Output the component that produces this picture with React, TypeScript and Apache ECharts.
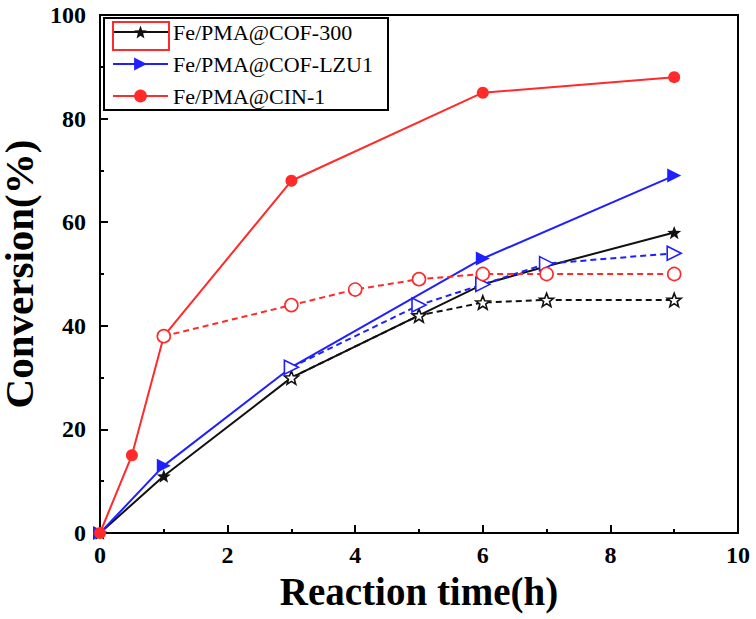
import React, { useEffect, useRef } from "react";
import * as echarts from "echarts";

// ---- data ----
const xTicks = [0, 2, 4, 6, 8, 10];
const yTicks = [0, 20, 40, 60, 80, 100];

const nameCof300 = "Fe/PMA@COF-300";
const nameLzu1 = "Fe/PMA@COF-LZU1";
const nameCin1 = "Fe/PMA@CIN-1";

// solid lines (filled markers)
const cof300SolidX = [0, 1, 3, 5, 6, 7, 9];
const cof300SolidY = [0, 11, 30, 42, 48, 51.5, 58];
const cof300SolidMarked = [true, true, true, false, false, false, true];

const lzu1SolidX = [0, 1, 3, 6, 9];
const lzu1SolidY = [0, 13, 32, 53, 69];

const cin1SolidX = [0, 0.5, 1, 3, 6, 9];
const cin1SolidY = [0, 15, 38, 68, 85, 88];

// dashed lines (open markers)
const cof300DashX = [3, 5, 6, 7, 9];
const cof300DashY = [30, 42, 44.5, 45, 45];

const lzu1DashX = [3, 5, 6, 7, 9];
const lzu1DashY = [32, 44, 48, 52, 54];

const cin1DashX = [1, 3, 4, 5, 6, 7, 9];
const cin1DashY = [38, 44, 47, 49, 50, 50, 50];

// ---- styles ----
const BLACK = "#111111";
const BLUE = "#1f1fff";
const RED = "#ff2a2a";
const FONT = "'Liberation Serif', 'Times New Roman', serif";

function starPath(): string {
  const pts: string[] = [];
  for (let i = 0; i < 10; i++) {
    const r = i % 2 === 0 ? 10 : 4.2;
    const a = -Math.PI / 2 + (i * Math.PI) / 5;
    const px = 10 + r * Math.cos(a);
    const py = 10 + r * Math.sin(a);
    pts.push((i === 0 ? "M" : "L") + px.toFixed(2) + "," + py.toFixed(2));
  }
  return "path://" + pts.join("") + "Z";
}
const STAR = starPath();
const TRI_RIGHT = "path://M0,0L10,5L0,10Z";

function zip(xs: number[], ys: number[]) {
  return xs.map((x, i) => [x, ys[i]]);
}

export default function App() {
  const ref = useRef<HTMLDivElement>(null);
  useEffect(() => {
    if (!ref.current) return;
    const chart = echarts.init(ref.current, undefined, { renderer: "svg" });

    const cof300SolidData = cof300SolidX.map((x, i) =>
      cof300SolidMarked[i]
        ? { value: [x, cof300SolidY[i]] }
        : { value: [x, cof300SolidY[i]], symbol: "none" }
    );

    const solidLine = (color: string) => ({ color, width: 2, type: "solid" as const });
    const dashLine = (color: string) => ({ color, width: 2, type: [6, 4] });

    chart.setOption({
      animation: false,
      backgroundColor: "#ffffff",
      grid: {
        left: 100,
        right: 18,
        top: 15,
        bottom: 86,
        show: true,
        borderColor: "#000",
        borderWidth: 2,
        containLabel: false,
        outerBoundsMode: "none",
      },
      legend: {
        orient: "vertical",
        left: 112,
        top: 20,
        padding: 0,
        itemWidth: 55,
        itemHeight: 16,
        itemGap: 8,
        data: [nameCof300, nameLzu1, nameCin1],
        textStyle: { fontFamily: FONT, fontSize: 22, color: "#000", lineHeight: 24 },
        selectedMode: false,
      },
      graphic: [
        {
          type: "rect",
          shape: { x: 104, y: 18, width: 284, height: 92 },
          style: { fill: "none", stroke: "#000", lineWidth: 2 },
          z: 10,
        },
        {
          type: "rect",
          shape: { x: 113, y: 22, width: 56, height: 28 },
          style: { fill: "none", stroke: RED, lineWidth: 2 },
          z: 11,
        },
      ],
      xAxis: {
        type: "value",
        min: xTicks[0],
        max: xTicks[xTicks.length - 1],
        interval: 2,
        name: "Reaction time(h)",
        nameLocation: "middle",
        nameGap: 38,
        nameTextStyle: { fontFamily: FONT, fontWeight: "bold", fontSize: 39, color: "#000" },
        axisLine: { show: true, lineStyle: { color: "#000", width: 2 } },
        axisTick: { show: true, inside: true, length: 8, lineStyle: { color: "#000", width: 2 } },
        minorTick: { show: true, splitNumber: 2, length: 4, lineStyle: { color: "#000", width: 2 } },
        axisLabel: {
          fontFamily: FONT,
          fontWeight: "bold",
          fontSize: 24,
          color: "#000",
          margin: 10,
        },
        splitLine: { show: false },
      },
      yAxis: {
        type: "value",
        min: yTicks[0],
        max: yTicks[yTicks.length - 1],
        interval: 20,
        name: "Conversion(%)",
        nameLocation: "middle",
        nameGap: 42,
        nameTextStyle: { fontFamily: FONT, fontWeight: "bold", fontSize: 41, lineHeight: 41, color: "#000" },
        axisLine: { show: true, lineStyle: { color: "#000", width: 2 } },
        axisTick: { show: true, inside: true, length: 8, lineStyle: { color: "#000", width: 2 } },
        minorTick: { show: true, splitNumber: 2, length: 4, lineStyle: { color: "#000", width: 2 } },
        axisLabel: {
          fontFamily: FONT,
          fontWeight: "bold",
          fontSize: 24,
          color: "#000",
          margin: 14,
        },
        splitLine: { show: false },
      },
      series: [
        {
          name: nameCof300,
          type: "line",
          data: cof300SolidData,
          symbol: STAR,
          symbolSize: 14,
          symbolKeepAspect: true,
          lineStyle: solidLine(BLACK),
          itemStyle: { color: BLACK },
          z: 2,
        },
        {
          name: nameLzu1,
          type: "line",
          data: zip(lzu1SolidX, lzu1SolidY),
          symbol: TRI_RIGHT,
          symbolSize: 14,
          symbolKeepAspect: true,
          lineStyle: solidLine(BLUE),
          itemStyle: { color: BLUE },
          z: 2,
        },
        {
          name: nameCin1,
          type: "line",
          data: zip(cin1SolidX, cin1SolidY),
          symbol: "circle",
          symbolSize: 12,
          lineStyle: solidLine(RED),
          itemStyle: { color: RED },
          z: 2,
        },
        {
          name: nameCof300 + " (dashed)",
          type: "line",
          data: zip(cof300DashX, cof300DashY),
          symbol: STAR,
          symbolSize: 14,
          symbolKeepAspect: true,
          lineStyle: dashLine(BLACK),
          itemStyle: { color: "#fff", borderColor: BLACK, borderWidth: 1.6 },
          z: 3,
        },
        {
          name: nameLzu1 + " (dashed)",
          type: "line",
          data: zip(lzu1DashX, lzu1DashY),
          symbol: TRI_RIGHT,
          symbolSize: 14,
          symbolKeepAspect: true,
          lineStyle: dashLine(BLUE),
          itemStyle: { color: "#fff", borderColor: BLUE, borderWidth: 1.6 },
          z: 3,
        },
        {
          name: nameCin1 + " (dashed)",
          type: "line",
          data: zip(cin1DashX, cin1DashY),
          symbol: "circle",
          symbolSize: 13,
          lineStyle: dashLine(RED),
          itemStyle: { color: "#fff", borderColor: RED, borderWidth: 1.6 },
          z: 3,
        },
      ],
    });
    return () => chart.dispose();
  }, []);

  return (
    <div
      ref={ref}
      style={{ position: "fixed", left: 0, top: 0, width: 756, height: 619, background: "#fff" }}
    />
  );
}
